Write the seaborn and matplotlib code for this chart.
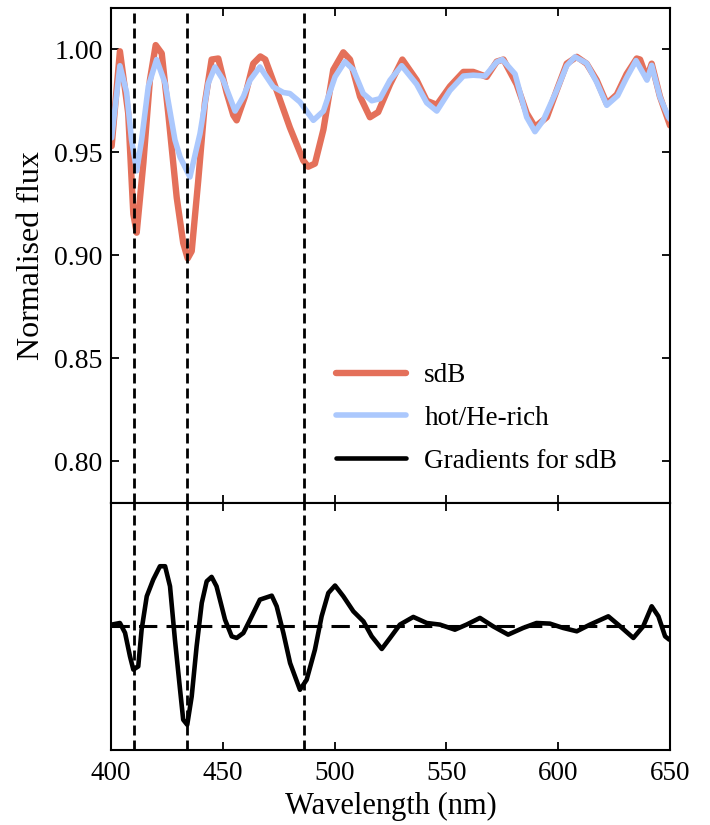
import numpy as np
import pandas as pd
import matplotlib
matplotlib.use("Agg")
import matplotlib.pyplot as plt
import seaborn as sns

# ---------------- data ----------------
wl_sdb = [400.3, 404.0, 407.7, 410.0, 411.5, 414.5, 417.4, 420.0, 422.7, 425.6,
          429.4, 432.3, 434.3, 436.1, 439.0, 442.0, 445.0, 448.0, 451.7, 454.7,
          456.2, 459.9, 463.6, 466.8, 469.0, 474.1, 480.0, 486.0, 488.2, 491.2,
          495.0, 499.4, 503.9, 506.9, 511.4, 515.8, 519.5, 524.8, 530.3, 536.7,
          541.2, 545.7, 551.6, 557.6, 562.0, 568.0, 572.5, 575.5, 581.4, 585.9,
          589.6, 594.9, 599.3, 603.8, 608.3, 612.7, 617.2, 621.7, 626.2, 630.6,
          635.1, 636.6, 639.6, 641.8, 645.5, 650.0]
flux_sdb = [0.953, 0.999, 0.969, 0.920, 0.911, 0.945, 0.985, 1.002, 0.998, 0.969,
            0.928, 0.906, 0.8985, 0.902, 0.936, 0.974, 0.995, 0.9955, 0.979, 0.968,
            0.9655, 0.977, 0.993, 0.9965, 0.995, 0.980, 0.962, 0.946, 0.943, 0.9445,
            0.961, 0.990, 0.9985, 0.995, 0.977, 0.967, 0.9695, 0.983, 0.995, 0.985,
            0.975, 0.973, 0.982, 0.989, 0.989, 0.9866, 0.994, 0.995, 0.983, 0.969,
            0.9623, 0.967, 0.980, 0.993, 0.9963, 0.993, 0.985, 0.9736, 0.978, 0.988,
            0.9955, 0.995, 0.986, 0.993, 0.977, 0.963]

wl_hot = [400.3, 404.0, 407.0, 409.2, 411.5, 413.7, 416.7, 420.4, 424.2, 428.6,
          430.9, 435.3, 439.8, 443.5, 446.5, 450.2, 455.5, 459.2, 462.2, 466.6,
          472.6, 477.1, 480.0, 484.5, 490.5, 495.0, 500.2, 504.6, 508.4, 512.8,
          516.6, 520.3, 524.8, 530.0, 536.7, 541.2, 545.7, 551.6, 557.6, 562.0,
          567.3, 572.5, 575.0, 580.7, 585.9, 589.6, 593.3, 599.3, 603.8, 607.5,
          612.7, 617.2, 621.7, 626.6, 630.6, 634.8, 639.7, 641.8, 645.5, 649.3,
          650.0]
flux_hot = [0.957, 0.992, 0.979, 0.956, 0.941, 0.956, 0.982, 0.995, 0.9835, 0.956,
            0.9477, 0.938, 0.959, 0.9835, 0.9914, 0.985, 0.970, 0.977, 0.985, 0.9914,
            0.9817, 0.979, 0.9785, 0.9744, 0.9655, 0.970, 0.9866, 0.994, 0.990, 0.9785,
            0.975, 0.976, 0.985, 0.992, 0.983, 0.974, 0.970, 0.980, 0.987, 0.9874,
            0.987, 0.9938, 0.995, 0.988, 0.967, 0.960, 0.9655, 0.980, 0.992, 0.9963,
            0.9932, 0.984, 0.9728, 0.9775, 0.9862, 0.9945, 0.985, 0.9922, 0.9768, 0.967,
            0.966]

wl_grad = [400.3, 404.0, 406.3, 408.5, 410.0, 412.2, 413.7, 416.0, 418.9, 421.9,
           424.2, 426.4, 428.6, 430.9, 432.3, 434.1, 436.1, 438.3, 440.6, 442.8,
           445.0, 447.2, 451.0, 454.0, 456.2, 459.2, 462.2, 466.6, 471.9, 474.1,
           477.1, 480.1, 484.5, 487.5, 491.2, 494.2, 497.2, 500.2, 503.9, 508.4,
           512.9, 516.6, 521.1, 524.8, 529.2, 535.2, 541.2, 547.1, 553.8, 559.0,
           565.0, 570.9, 577.6, 584.3, 590.3, 596.3, 602.2, 608.3, 614.2, 622.4,
           626.8, 633.6, 638.0, 641.8, 644.8, 647.8, 649.7]
grad_sdb = [0.014, 0.027, -0.053, -0.243, -0.35, -0.324, -0.027, 0.243, 0.378, 0.486,
            0.486, 0.324, -0.108, -0.513, -0.755, -0.796, -0.567, -0.162, 0.189, 0.364,
            0.40, 0.324, 0.054, -0.081, -0.094, -0.054, 0.054, 0.216, 0.248, 0.162,
            -0.054, -0.297, -0.513, -0.432, -0.189, 0.081, 0.27, 0.33, 0.243, 0.121,
            0.040, -0.081, -0.183, -0.094, 0.014, 0.076, 0.027, 0.014, -0.027, 0.014,
            0.068, 0.0, -0.067, -0.013, 0.027, 0.022, -0.013, -0.04, 0.014, 0.081,
            0.014, -0.094, 0.0, 0.162, 0.081, -0.081, -0.108]

balmer_lines = [410.17, 434.05, 486.13]
x_ticks = [400, 450, 500, 550, 600, 650]
y_ticks = [0.80, 0.85, 0.90, 0.95, 1.00]

df_sdb = pd.DataFrame({"wl": wl_sdb, "flux": flux_sdb})
df_hot = pd.DataFrame({"wl": wl_hot, "flux": flux_hot})
df_grad = pd.DataFrame({"wl": wl_grad, "grad": grad_sdb})

# ---------------- style ----------------
sns.set_theme(style="ticks")
plt.rcParams["font.family"] = ["Liberation Serif", "DejaVu Serif"]
plt.rcParams["mathtext.fontset"] = "stix"
plt.rcParams.update({
    "axes.linewidth": 1.5,
    "xtick.direction": "in", "ytick.direction": "in",
    "xtick.major.size": 6, "ytick.major.size": 6,
    "xtick.major.width": 1.3, "ytick.major.width": 1.3,
    "xtick.labelsize": 19.5, "ytick.labelsize": 20,
    "axes.labelsize": 22,
    "axes.edgecolor": "black",
    "xtick.color": "black", "ytick.color": "black",
    "text.color": "black", "axes.labelcolor": "black",
    "lines.solid_capstyle": "round", "lines.solid_joinstyle": "round",
})

RED = "#E4705A"
BLUE = "#ABC8FD"

fig = plt.figure(figsize=(7.1, 8.25), dpi=100)
gs = fig.add_gridspec(2, 1, height_ratios=[2, 1], hspace=0,
                      left=0.1563, right=0.9437, top=0.9903, bottom=0.0909)
ax1 = fig.add_subplot(gs[0])
ax2 = fig.add_subplot(gs[1], sharex=ax1)

sns.lineplot(data=df_sdb, x="wl", y="flux", ax=ax1, color=RED, lw=4.6,
             label="sdB", sort=False)
sns.lineplot(data=df_hot, x="wl", y="flux", ax=ax1, color=BLUE, lw=4.0,
             label="hot/He-rich", sort=False)
ax1.plot([], [], color="black", lw=3.3, label="Gradients for sdB")

sns.lineplot(data=df_grad, x="wl", y="grad", ax=ax2, color="black", lw=3.3,
             sort=False)
ax2.axhline(0, color="black", lw=2.2, ls=(0, (6, 3)), zorder=5)

for ax in (ax1, ax2):
    for wl in balmer_lines:
        ax.axvline(wl, color="black", lw=2.0, ls=(0, (3.6, 1.8)), zorder=6)
    ax.tick_params(top=True, right=True, which="both")
    for s in ax.spines.values():
        s.set_visible(True)
        s.set_linewidth(1.5)

ax1.set_xlim(400, 650)
ax1.set_ylim(0.78, 1.02)
ax1.set_yticks(y_ticks)
ax1.set_yticklabels([f"{v:.2f}" for v in y_ticks])
ax1.tick_params(axis="y", pad=6)
ax1.set_ylabel("Normalised flux", fontsize=23, labelpad=6)
ax1.set_xlabel("")
ax1.tick_params(labelbottom=False)

ax2.set_ylim(-1, 1)
ax2.set_yticks([])
ax2.set_ylabel("")
ax2.set_xticks(x_ticks)
ax2.set_xticklabels([str(v) for v in x_ticks])
ax2.set_xlabel("Wavelength (nm)", labelpad=4)
ax2.tick_params(axis="x", pad=8)

leg = ax1.legend(loc="lower right", bbox_to_anchor=(0.925, 0.037),
                 frameon=False, fontsize=19.5, borderaxespad=0,
                 handlelength=2.6, handletextpad=0.67, labelspacing=0.65)

fig.savefig("out.png", dpi=100)
